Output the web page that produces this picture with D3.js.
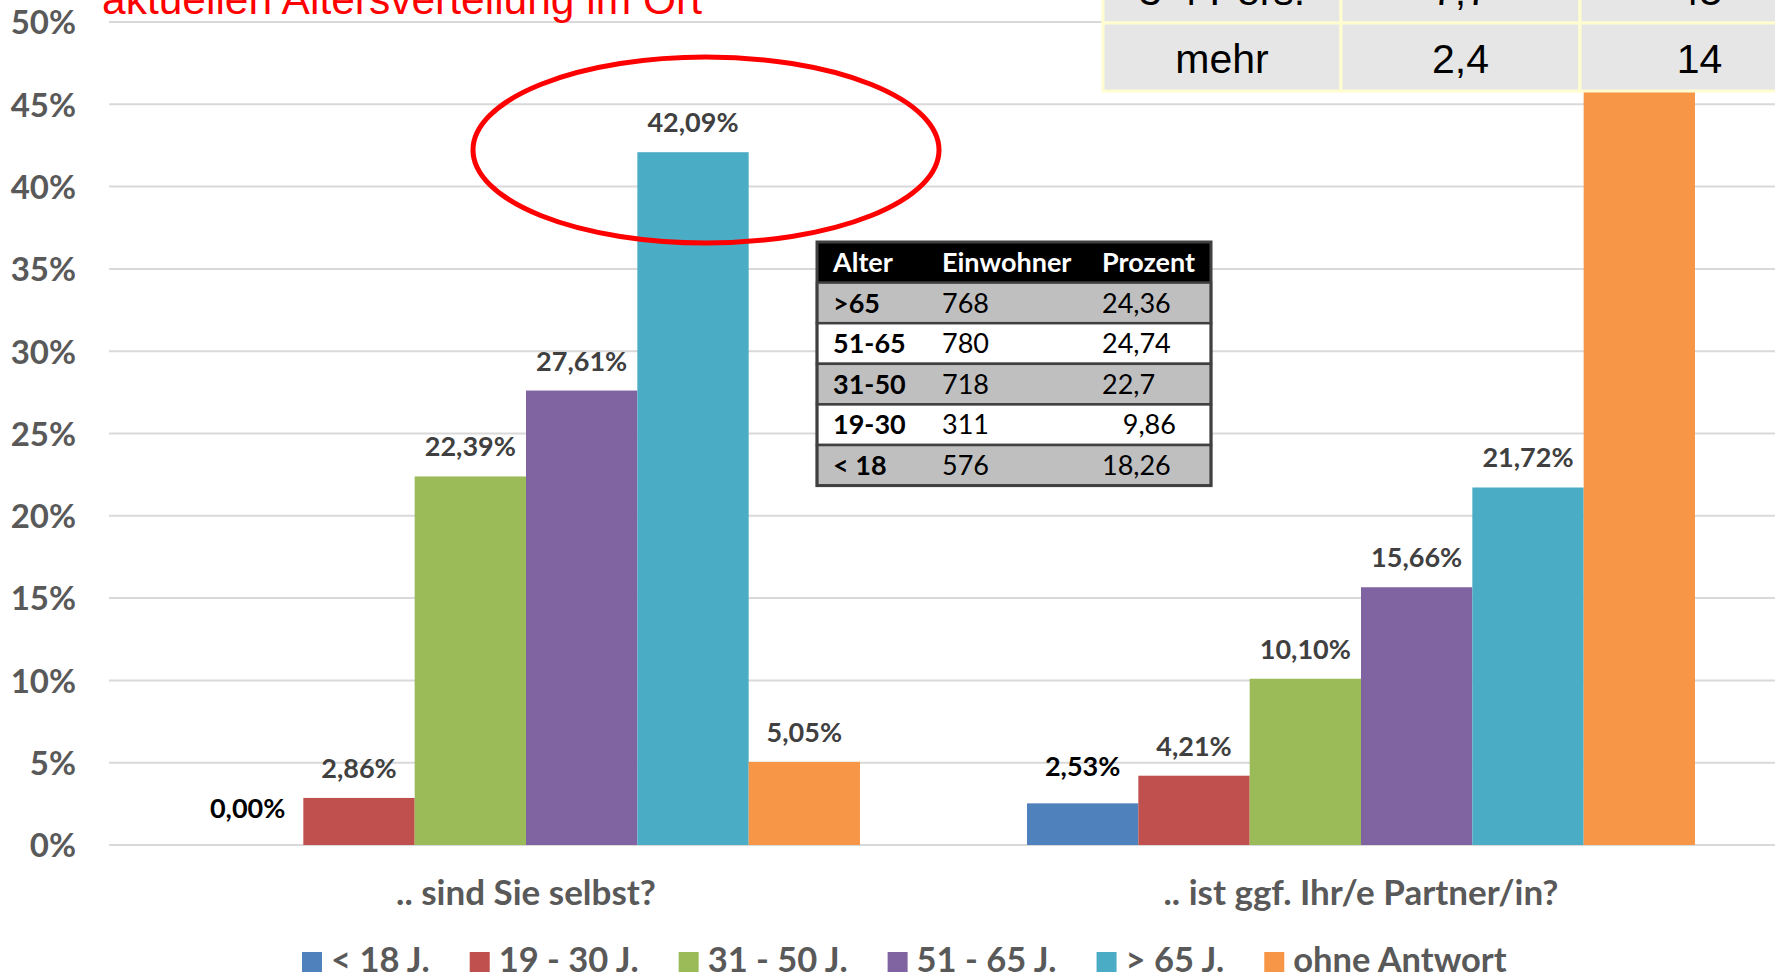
<!DOCTYPE html>
<html>
<head>
<meta charset="utf-8">
<script src="https://cdn.jsdelivr.net/npm/d3@7"></script>
<style>
  html, body { margin: 0; padding: 0; background: #fff; }
  svg { display: block; }
  text { font-family: Lato, "Noto Sans", sans-serif; }
</style>
</head>
<body>
<svg id="chart" width="1775" height="979"></svg>
<script>
// ---------- data ----------
const categories = [".. sind Sie selbst?", ".. ist ggf. Ihr/e Partner/in?"];
const seriesNames = ["< 18 J.", "19 - 30 J.", "31 - 50 J.", "51 - 65 J.", "> 65 J.", "ohne Antwort"];
const seriesColors = ["#4F81BD", "#C0504D", "#9BBB59", "#8064A2", "#4BACC6", "#F79646"];
const selbstValues = [0.00, 2.86, 22.39, 27.61, 42.09, 5.05];
const partnerValues = [2.53, 4.21, 10.10, 15.66, 21.72, 45.78];
const yTicks = [0, 5, 10, 15, 20, 25, 30, 35, 40, 45, 50];

const titleText = "aktuellen Altersverteilung im Ort";

const ageTableHeader = ["Alter", "Einwohner", "Prozent"];
const ageTableAlter = [">65", "51-65", "31-50", "19-30", "< 18"];
const ageTableEinwohner = ["768", "780", "718", "311", "576"];
const ageTableProzent = ["24,36", "24,74", "22,7", "   9,86", "18,26"];

const topTableRow1 = ["3-4 Pers.", "7,7", "45"];
const topTableRow2 = ["mehr", "2,4", "14"];

// ---------- setup ----------
const svg = d3.select("#chart");
const W = 1775, H = 979;
const fmt = v => v.toFixed(2).replace(".", ",") + "%";

const x0 = d3.scaleBand().domain(categories).range([108.5, 1778.5]).paddingInner(0.2).paddingOuter(0.1);
const x1 = d3.scaleBand().domain(seriesNames).range([0, x0.bandwidth()]);
const y = d3.scaleLinear().domain([0, 50]).range([845, 22]);
const color = d3.scaleOrdinal().domain(seriesNames).range(seriesColors);

const topTableBottom = 91;

const data = categories.map((c, i) => ({
  cat: c,
  values: seriesNames.map((s, j) => ({ s, j, v: (i === 0 ? selbstValues : partnerValues)[j] }))
}));

// gridlines
svg.append("g").selectAll("line").data(yTicks).join("line")
  .attr("x1", 109).attr("x2", W)
  .attr("y1", d => y(d)).attr("y2", d => y(d))
  .attr("stroke", "#D9D9D9").attr("stroke-width", 2);

// y axis labels
const yAxis = d3.axisLeft(y).tickValues(yTicks).tickFormat(d => d + "%").tickSize(0).tickPadding(0);
const yg = svg.append("g").attr("transform", "translate(76,0)").call(yAxis);
yg.select(".domain").remove();
yg.selectAll("text")
  .attr("font-family", "Lato, sans-serif")
  .attr("font-weight", 700).attr("font-size", 33).attr("fill", "#595959")
  .attr("dy", "0.36em");

// title (cut at the top)
svg.append("text").attr("x", 102).attr("y", 14)
  .attr("font-size", 42.5).attr("fill", "#FF0000")
  .style("font-family", "'Liberation Sans', Arial, sans-serif")
  .text(titleText);

// bars
const groups = svg.append("g").selectAll("g").data(data).join("g")
  .attr("transform", d => `translate(${x0(d.cat)},0)`);
groups.selectAll("rect").data(d => d.values).join("rect")
  .attr("x", d => x1(d.s)).attr("width", x1.bandwidth())
  .attr("y", d => y(d.v)).attr("height", d => y(0) - y(d.v))
  .attr("fill", d => color(d.s));

// data labels (a label hidden under the top-right table is not drawn)
const labelOffset = d => (d.j === 0 ? 27 : 20);
groups.selectAll("text.lbl")
  .data(d => d.values.filter(v => y(v.v) - labelOffset(v) > topTableBottom))
  .join("text")
  .attr("class", "lbl")
  .attr("x", d => x1(d.s) + x1.bandwidth() / 2)
  .attr("y", d => y(d.v) - labelOffset(d))
  .attr("text-anchor", "middle")
  .attr("font-weight", 700).attr("font-size", 27)
  .attr("fill", d => d.j === 0 ? "#000000" : "#404040")
  .text(d => fmt(d.v));

// category labels
const xAxis = d3.axisBottom(x0).tickSize(0).tickPadding(0);
const xg = svg.append("g").attr("transform", "translate(0,880)").call(xAxis);
xg.select(".domain").remove();
xg.selectAll("text")
  .attr("font-family", "Lato, sans-serif")
  .attr("font-weight", 700).attr("font-size", 35).attr("fill", "#595959")
  .attr("dy", "0.72em");

// red ellipse highlight around the >65 bar of group 1
const hx = x0(categories[0]) + x1(seriesNames[4]) + x1.bandwidth() / 2;
svg.append("ellipse")
  .attr("cx", hx + 13).attr("cy", 150).attr("rx", 233).attr("ry", 93)
  .attr("fill", "none").attr("stroke", "#FF0000").attr("stroke-width", 5);

// legend
const lg = svg.append("g");
let lx = 302;
seriesNames.forEach((s, i) => {
  const it = lg.append("g").attr("transform", `translate(${lx},0)`);
  it.append("rect").attr("x", 0).attr("y", 952).attr("width", 20).attr("height", 20).attr("fill", color(s));
  const t = it.append("text").attr("x", 29).attr("y", 972)
    .attr("font-weight", 700).attr("font-size", 34.5).attr("fill", "#595959").text(s);
  lx += 29 + t.node().getComputedTextLength() + 40;
});

// middle table (age distribution)
const tb = svg.append("g");
const tX = 817, tY = 242, tW = 394, rowH = 40.6;
const colX = [833, 942, 1102];
const fs = 27;
tb.append("rect").attr("x", tX).attr("y", tY).attr("width", tW).attr("height", rowH).attr("fill", "#000");
tb.selectAll("text.h").data(ageTableHeader).join("text").attr("class", "h")
  .attr("x", (d, i) => colX[i]).attr("y", tY + rowH / 2 + 0.36 * fs)
  .attr("font-size", fs).attr("font-weight", 700).attr("fill", "#fff").text(d => d);
ageTableAlter.forEach((a, r) => {
  const ry = tY + rowH * (r + 1);
  tb.append("rect").attr("x", tX).attr("y", ry).attr("width", tW).attr("height", rowH)
    .attr("fill", r % 2 === 0 ? "#BFBFBF" : "#FFFFFF")
    .attr("stroke", "#404040").attr("stroke-width", 2.5);
  const cells = [a, ageTableEinwohner[r], ageTableProzent[r]];
  cells.forEach((c, k) => {
    tb.append("text").attr("x", colX[k]).attr("y", ry + rowH / 2 + 0.36 * fs)
      .attr("font-size", fs).attr("font-weight", k === 0 ? 700 : 400).attr("fill", "#000")
      .style("white-space", "pre").text(c);
  });
});
tb.append("rect").attr("x", tX).attr("y", tY).attr("width", tW).attr("height", rowH * 6)
  .attr("fill", "none").attr("stroke", "#404040").attr("stroke-width", 3);

// top-right table (partly cut off)
const tt = svg.append("g");
const ttCols = [1103, 1341, 1580, 1819];
const ttRows = [-45, 23, topTableBottom];
[topTableRow1, topTableRow2].forEach((row, r) => {
  row.forEach((c, k) => {
    tt.append("rect").attr("x", ttCols[k]).attr("y", ttRows[r])
      .attr("width", ttCols[k + 1] - ttCols[k]).attr("height", ttRows[r + 1] - ttRows[r])
      .attr("fill", "#E6E6E6").attr("stroke", "#FFFDD0").attr("stroke-width", 3);
    tt.append("text").attr("x", (ttCols[k] + ttCols[k + 1]) / 2).attr("y", ttRows[r + 1] - 18)
      .attr("text-anchor", "middle").attr("font-size", 41).attr("fill", "#000")
      .style("font-family", "'Liberation Sans', Arial, sans-serif").text(c);
  });
});
</script>
</body>
</html>
